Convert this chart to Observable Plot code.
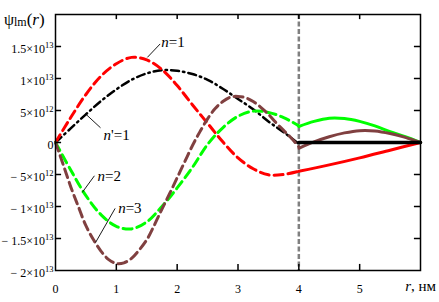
<!DOCTYPE html>
<html><head><meta charset="utf-8">
<script src="https://cdn.jsdelivr.net/npm/d3@7"></script>
<script src="https://cdn.jsdelivr.net/npm/@observablehq/plot@0.6"></script>
<style>body{margin:0;background:#fff}</style>
</head><body><div id="chart"></div>
<script>
// n=1 (red): dashed inside (r<=4), solid outside
const rN1in   = [0,0.25,0.5,0.75,1.0,1.25,1.5,1.75,2.0,2.25,2.5,2.75,3.0,3.25,3.5,3.75,4.0];
const psiN1in = [0,3.9e12,7.5e12,10.4e12,12.3e12,13.3e12,12.9e12,11.4e12,8.9e12,5.9e12,3.0e12,0.1e12,-2.4e12,-4.1e12,-5.05e12,-5.0e12,-4.5e12];
const rN1out   = [4.0,4.5,5.0,5.5,6.0];
const psiN1out = [-4.5e12,-3.5e12,-2.4e12,-1.2e12,0];
// n'=1 (black): dash-dot inside, solid zero outside
const rNp1in   = [0,0.25,0.5,0.75,1.0,1.25,1.5,1.75,2.0,2.25,2.5,2.75,3.0,3.25,3.5,3.75,4.0];
const psiNp1in = [0,2.2e12,4.4e12,6.5e12,8.3e12,9.8e12,10.8e12,11.3e12,11.2e12,10.7e12,9.8e12,8.4e12,6.8e12,5.2e12,3.3e12,1.6e12,-0.2e12];
const rNp1out   = [4.0,6.0];
const psiNp1out = [0,0];
// n=2 (green)
const rN2in   = [0,0.25,0.5,0.75,1.0,1.25,1.5,1.75,2.0,2.25,2.5,2.75,3.0,3.25,3.5,3.75,4.0];
const psiN2in = [0,-4.3e12,-8.3e12,-11.3e12,-13.1e12,-13.5e12,-12.4e12,-10.0e12,-7.1e12,-3.9e12,-0.3e12,2.3e12,4.1e12,4.9e12,4.7e12,3.9e12,2.6e12];
const rN2out   = [4.0,4.25,4.5,4.75,5.0,5.25,5.5,5.75,6.0];
const psiN2out = [2.5e12,3.3e12,3.8e12,3.75e12,3.3e12,2.6e12,1.7e12,0.9e12,0];
// n=3 (brown)
const rN3in   = [0,0.125,0.25,0.375,0.5,0.625,0.75,0.875,1.0,1.125,1.25,1.375,1.5,1.625,1.75,1.875,2.0,2.125,2.25,2.375,2.5,2.625,2.75,2.875,3.0,3.125,3.25,3.375,3.5,3.625,3.75,3.875,4.0];
const psiN3in = [0,-3.4e12,-6.9e12,-10.0e12,-13.0e12,-15.2e12,-17.0e12,-18.3e12,-18.9e12,-18.8e12,-18.1e12,-16.8e12,-15.2e12,-12.9e12,-10.4e12,-8.0e12,-5.5e12,-3.0e12,-0.5e12,1.7e12,3.7e12,5.3e12,6.4e12,7.1e12,7.2e12,7.0e12,6.4e12,5.5e12,4.4e12,3.1e12,1.9e12,0.7e12,-0.7e12];
const rN3out   = [4.0,4.25,4.5,4.75,5.0,5.25,5.5,5.75,6.0];
const psiN3out = [-0.9e12,0.1e12,0.9e12,1.5e12,1.85e12,1.8e12,1.4e12,0.8e12,0];

const xTicks = [0,1,2,3,4,5];
const xTickLabels = ["0","1","2","3","4","5"];
const yTicks = [1.5e13,1e13,5e12,0,-5e12,-1e13,-1.5e13,-2e13];
const yTickLabels = ["1.5×10^13","1×10^13","5×10^12","0","− 5×10^12","− 1×10^13","− 1.5×10^13","− 2×10^13"];
const boundaryR = [4];

const labelText = ["n=1","n'=1","n=2","n=3"];
const labelR    = [1.74,0.79,0.69,1.03];
const labelPsi  = [15.6e12,1.2e12,-5.3e12,-10.2e12];
const leadR1    = [1.51,0.49,0.44,0.66];
const leadPsi1  = [13.3e12,4.5e12,-7.8e12,-15.6e12];
const leadR2    = [1.72,0.74,0.64,0.98];
const leadPsi2  = [15.4e12,2.3e12,-5.2e12,-10.3e12];

const SERIF = "'Liberation Serif', 'Times New Roman', serif";
const seg = (r, psi) => r.map((x, i) => ({r: x, psi: psi[i]}));
const RED = "#ff0000", BLACK = "#000000", GREEN = "#00ff00", BROWN = "#804040";
const dash = {strokeWidth: 3, strokeDasharray: "9,5", curve: "catmull-rom"};
const solid = {strokeWidth: 3, curve: "catmull-rom"};

const innerX = xTicks.filter(d => d > 0);
const innerY = yTicks.filter(d => d > -2e13);

const chart = Plot.plot({
  width: 439, height: 302,
  marginLeft: 55, marginRight: 19, marginTop: 14, marginBottom: 32,
  x: {domain: [0, 6], axis: null},
  y: {domain: [-2e13, 2e13], axis: null},
  style: {fontFamily: SERIF, background: "#fff", color: "#000", overflow: "visible"},
  marks: [
    Plot.ruleX(boundaryR, {x: d => d, stroke: "#808080", strokeWidth: 2.5, strokeDasharray: "5,2.5"}),
    Plot.line(seg(rNp1in, psiNp1in), {x: "r", y: "psi", stroke: BLACK, strokeWidth: 2.5, strokeDasharray: "8,4,1.5,4", curve: "catmull-rom"}),
    Plot.line(seg(rN1in, psiN1in), {x: "r", y: "psi", stroke: RED, ...dash}),
    Plot.line(seg(rN2in, psiN2in), {x: "r", y: "psi", stroke: GREEN, ...dash}),
    Plot.line(seg(rN3in, psiN3in), {x: "r", y: "psi", stroke: BROWN, ...dash}),
    Plot.line(seg(rN1out, psiN1out), {x: "r", y: "psi", stroke: RED, ...solid}),
    Plot.line(seg(rN2out, psiN2out), {x: "r", y: "psi", stroke: GREEN, ...solid}),
    Plot.line(seg(rN3out, psiN3out), {x: "r", y: "psi", stroke: BROWN, ...solid}),
    Plot.line(seg(rNp1out, psiNp1out), {x: "r", y: "psi", stroke: BLACK, strokeWidth: 3.5}),
    Plot.frame({stroke: "#000", strokeWidth: 1.5}),
    // inward ticks
    Plot.ruleX(innerX, {x: d => d, y1: -2e13, y2: -2e13 + 0.95e12, stroke: "#000", strokeWidth: 1.5}),
    Plot.ruleX(innerX, {x: d => d, y1: 2e13, y2: 2e13 - 0.8e12, stroke: "#000", strokeWidth: 1.5}),
    Plot.ruleY(innerY, {y: d => d, x1: 0, x2: 0.1, stroke: "#000", strokeWidth: 1.5}),
    Plot.ruleY(innerY, {y: d => d, x1: 6, x2: 5.9, stroke: "#000", strokeWidth: 1.5}),
    // tick labels
    Plot.text(yTicks, {x: 0, y: d => d, text: (d, i) => yTickLabels[i], textAnchor: "end", dx: -2, dy: 2.5, fontSize: 12, fontFamily: SERIF, fill: "#000"}),
    Plot.text(xTicks, {x: d => d, y: -2e13, text: (d, i) => xTickLabels[i], dy: 19, fontSize: 12, fontFamily: SERIF, fill: "#000"}),
    // annotations
    Plot.link(labelText, {x1: (d, i) => leadR1[i], y1: (d, i) => leadPsi1[i], x2: (d, i) => leadR2[i], y2: (d, i) => leadPsi2[i], stroke: "#000", strokeWidth: 0.9}),
    Plot.text(labelText, {x: (d, i) => labelR[i], y: (d, i) => labelPsi[i], text: d => d, textAnchor: "start", fontSize: 15, fontFamily: SERIF, fill: "#000"})
  ]
});

const svg = d3.select(chart);
svg.selectAll("text").each(function() {
  const t = d3.select(this);
  const s = this.textContent;
  if (s.includes("^")) {
    const [base, ex] = s.split("^");
    t.text(null);
    t.append("tspan").text(base);
    t.append("tspan").attr("dy", "-5").attr("font-size", 8.5).text(ex);
  } else if (/^n'?=/.test(s)) {
    t.text(null);
    t.append("tspan").attr("font-style", "italic").text("n");
    t.append("tspan").text(s.slice(1));
  }
});

// y-axis title
const yt = svg.append("text").attr("x", 4).attr("y", 25).attr("text-anchor", "start").attr("font-size", 16).attr("fill", "#000")
  .attr("font-family", SERIF);
yt.append("tspan").text("ψ");
yt.append("tspan").attr("font-size", 12).attr("dy", 1).text("lm");
yt.append("tspan").attr("font-size", 17).attr("dy", -1).text("(");
yt.append("tspan").attr("font-size", 17).attr("font-style", "italic").text("r");
yt.append("tspan").attr("font-size", 17).text(")");

// x-axis title
const xt = svg.append("text").attr("x", 436).attr("y", 291).attr("text-anchor", "end").attr("font-size", 15).attr("fill", "#000")
  .attr("font-family", SERIF);
xt.append("tspan").attr("font-style", "italic").text("r");
xt.append("tspan").text(", нм");

document.getElementById("chart").appendChild(chart);
</script>
</body></html>
